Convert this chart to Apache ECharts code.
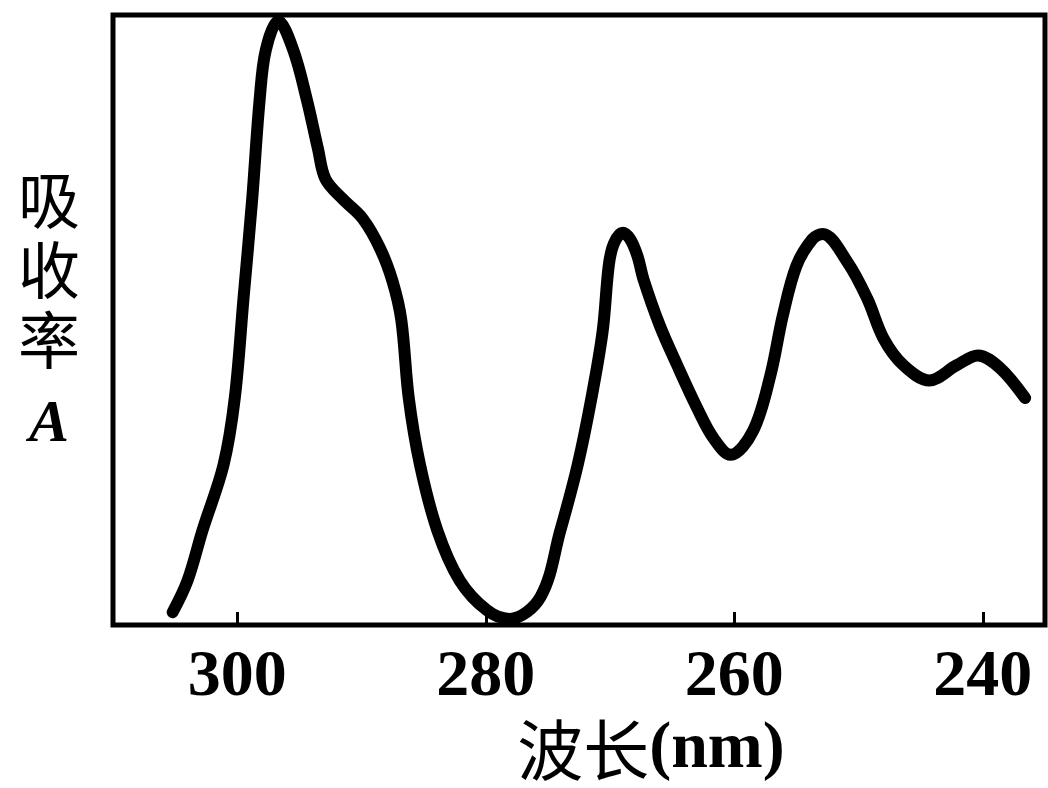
<!DOCTYPE html>
<html>
<head>
<meta charset="utf-8">
<script src="https://cdn.jsdelivr.net/npm/echarts@6/dist/echarts.min.js"></script>
<style>
  html, body { margin: 0; padding: 0; background: #fff; }
  #chart { width: 1048px; height: 788px; }
</style>
</head>
<body>
<div id="chart"></div>
<script>
// UV absorption spectrum: wavelength (nm) vs. relative absorbance A
const wavelength = [
  305.2, 304.0, 302.8, 301.1, 300.2, 299.5, 298.8, 298.2, 297.7, 296.7,
  295.5, 294.4, 293.5, 292.9, 291.5, 289.9, 288.5, 287.5, 286.8,
  286.2, 285.3, 283.9, 282.1, 279.9, 278.1, 275.6, 274.0, 272.6, 271.5,
  270.6, 270.1, 269.7, 269.0, 268.4, 267.8, 267.3, 266.0, 264.6, 263.0,
  261.7, 260.3, 258.5, 257.1, 256.1, 255.0, 253.7, 252.9, 250.9, 249.3,
  248.0, 246.4, 244.3, 242.1, 240.4, 238.6, 236.6
];
const absorbance = [
  0.021, 0.073, 0.155, 0.263, 0.372, 0.535, 0.698, 0.861, 0.943, 0.990,
  0.943, 0.861, 0.780, 0.731, 0.698, 0.666, 0.617, 0.563, 0.500,
  0.372, 0.263, 0.155, 0.073, 0.024, 0.010, 0.046, 0.155, 0.263, 0.372,
  0.481, 0.590, 0.625, 0.643, 0.633, 0.605, 0.566, 0.491, 0.426, 0.356,
  0.307, 0.279, 0.318, 0.409, 0.507, 0.589, 0.633, 0.641, 0.595, 0.535,
  0.470, 0.426, 0.401, 0.426, 0.442, 0.421, 0.372
];
const xTicks = [300, 280, 260, 240];
const yTitleChars = ['吸', '收', '率'];
const yTitleSymbol = 'A';

const serif = '"Liberation Serif", "DejaVu Serif", serif';
const cjk = '"Noto Sans CJK SC", sans-serif';

const chart = echarts.init(document.getElementById('chart'), null, { renderer: 'canvas' });

chart.setOption({
  backgroundColor: '#ffffff',
  animation: false,
  grid: {
    left: 113, right: 3, top: 15, bottom: 160,
    show: true, borderColor: '#000', borderWidth: 5, backgroundColor: 'transparent'
  },
  xAxis: {
    type: 'value',
    inverse: true,
    min: 235, max: 310,
    interval: 5,
    axisLine: { show: false },
    axisTick: {
      show: true, inside: true, length: 13,
      lineStyle: { color: '#000', width: 3 },
      customValues: xTicks
    },
    axisLabel: {
      show: true, margin: 20,
      color: '#000', fontSize: 66, fontWeight: 'bold', fontFamily: serif,
      customValues: xTicks
    },
    splitLine: { show: false },
    name: '{c|波长}{b|(nm)}',
    nameLocation: 'middle',
    nameGap: 92,
    nameTextStyle: {
      padding: [0, 0, 0, 144],
      rich: {
        c: { fontSize: 66, fontFamily: cjk, color: '#000' },
        b: { fontSize: 66, fontFamily: serif, fontWeight: 'bold', color: '#000' }
      }
    }
  },
  yAxis: {
    type: 'value',
    min: 0, max: 1,
    axisLine: { show: false },
    axisTick: { show: false },
    axisLabel: { show: false },
    splitLine: { show: false },
    name: yTitleChars.map(ch => '{c|' + ch + '}').join('\n') + '\n{a|' + yTitleSymbol + '}',
    nameLocation: 'middle',
    nameRotate: 0,
    nameGap: 64,
    nameTextStyle: {
      align: 'center',
      rich: {
        c: { fontSize: 62, lineHeight: 70, fontFamily: cjk, color: '#000', align: 'center' },
        a: { fontSize: 60, lineHeight: 100, fontFamily: serif, fontStyle: 'italic', fontWeight: 'bold', color: '#000', align: 'center' }
      }
    }
  },
  series: [{
    type: 'line',
    data: wavelength.map((w, i) => [w, absorbance[i]]),
    showSymbol: false,
    smooth: 0.35,
    lineStyle: { color: '#000', width: 12, cap: 'round', join: 'round' },
    clip: false
  }]
});
</script>
</body>
</html>
